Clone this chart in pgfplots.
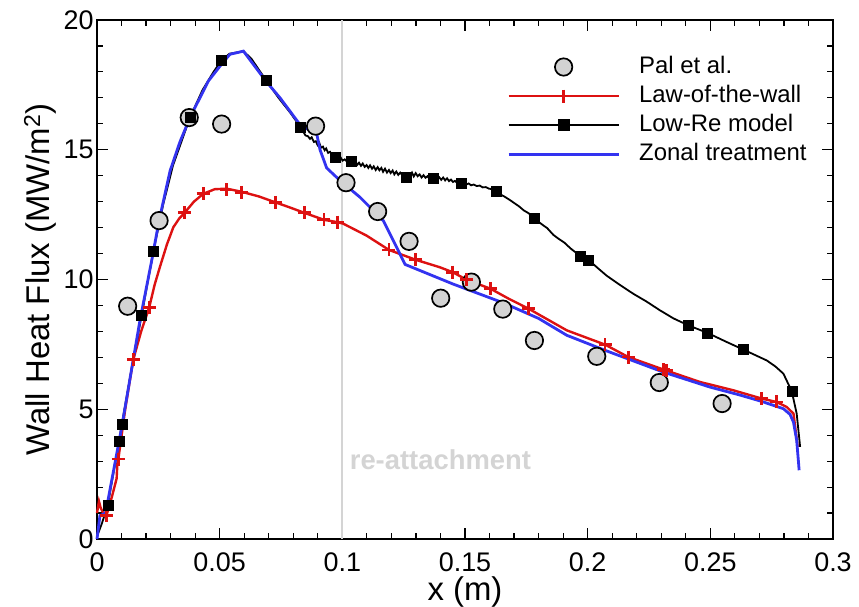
\documentclass[border=0pt]{standalone}
\usepackage{pgfplots}
\pgfplotsset{compat=1.18}
\usepackage{fontspec}
\setmainfont{Liberation Sans}
\definecolor{palgray}{HTML}{D3D3D3}
\definecolor{reatt}{HTML}{D4D4D4}
\definecolor{lawred}{HTML}{DD1111}
\definecolor{zonblue}{HTML}{3333F0}
\begin{document}
\begin{tikzpicture}
\begin{axis}[
  scale only axis, width=736bp, height=519bp,
  xmin=0, xmax=0.3, ymin=0, ymax=20,
  xtick={0,0.05,0.1,0.15,0.2,0.25,0.3},
  xticklabels={0,0.05,0.1,0.15,0.2,0.25,0.3},
  ytick={0,5,10,15,20},
  minor x tick num=4, minor y tick num=4,
  tick align=inside,
  major tick length=11bp, minor tick length=6bp,
  every tick/.style={black, line width=1.2bp},
  axis line style={line width=2.4bp},
  /pgf/number format/assume math mode=true,
  tick label style={font=\fontsize{27}{27}\selectfont},
  xticklabel style={inner ysep=0pt, yshift=-14bp},
  label style={font=\fontsize{33}{33}\selectfont},
  xlabel={x (m)},
  ylabel={Wall Heat Flux (MW/m\textsuperscript{2})},
  xlabel style={at={(axis description cs:0.5,-0.103)}, anchor=center, inner ysep=0pt},
  ylabel style={at={(axis description cs:-0.0775,0.5)}, anchor=center},
  legend image code/.code={%
    \draw[mark repeat=2,mark phase=2,#1] plot coordinates {(0bp,0bp) (55bp,0bp) (110bp,0bp)};},
  legend style={at={(rel axis cs:0.557,0.931)}, anchor=north west, draw=none, fill=none,
    font=\fontsize{24}{24}\selectfont, inner sep=0pt, row sep=7bp, column sep=19bp,
    nodes={inner sep=0pt, text height=17bp, text depth=5bp}},
  legend cell align=left,
  clip=false,
]
\addlegendimage{only marks, mark=*, mark size=8.7bp, mark options={fill=palgray, draw=black, line width=1.7bp}}
\addlegendentry{Pal et al.}
\addlegendimage{lawred, line width=2.5bp, mark=+, mark size=6.5bp, mark options={line width=2.8bp}}
\addlegendentry{Law-of-the-wall}
\addlegendimage{black, line width=2bp, mark=square*, mark size=5bp}
\addlegendentry{Low-Re model}
\addlegendimage{zonblue, line width=3bp}
\addlegendentry{Zonal treatment}

% re-attachment line
\addplot[forget plot, reatt, line width=2bp] coordinates {(0.1,0) (0.1,20)};
\node[anchor=west, text=reatt, font=\fontsize{27.5}{27.5}\selectfont\bfseries] at (axis cs:0.1,3.04) [xshift=4bp] {re-attachment};

% Pal et al.
\addplot[forget plot, only marks, mark=*, mark size=8.7bp, mark options={fill=palgray, draw=black, line width=1.7bp}] coordinates {
(0.0125,8.97) (0.0253,12.27) (0.0376,16.24) (0.0508,15.99) (0.0891,15.91)
(0.1015,13.73) (0.1144,12.62) (0.1272,11.47) (0.1401,9.28) (0.1526,9.90)
(0.1654,8.86) (0.1783,7.65) (0.2037,7.04) (0.2292,6.03) (0.2548,5.22)};

% Law-of-the-wall line
\addplot[forget plot, lawred, line width=2.4bp] coordinates {
(0,1.0) (0.0008,1.45) (0.0015,1.2) (0.0026,0.99) (0.004,0.95) (0.006,1.6) (0.008,2.33)
(0.0083,2.9) (0.0087,3.08) (0.0115,5.0) (0.0148,6.92) (0.018,8.0) (0.0213,8.93)
(0.0235,9.8) (0.0257,10.5) (0.0285,11.35) (0.0311,12.01) (0.0335,12.35) (0.0357,12.57)
(0.0395,13.0) (0.0433,13.30) (0.048,13.48)
(0.0529,13.5) (0.059,13.38) (0.066,13.2) (0.0728,12.97) (0.0785,12.78) (0.0845,12.57)
(0.0925,12.3) (0.098,12.21) (0.1004,12.15) (0.1099,11.69) (0.119,11.14) (0.1299,10.76)
(0.1398,10.47) (0.145,10.28) (0.1507,9.99) (0.1605,9.64) (0.168,9.25) (0.176,8.87)
(0.1915,8.04) (0.2071,7.49) (0.2166,7.01) (0.2309,6.53) (0.2458,6.05) (0.2594,5.73)
(0.271,5.41) (0.277,5.28) (0.2811,5.09) (0.2839,4.83) (0.2856,3.55)};
\addplot[forget plot, only marks, lawred, mark=+, mark size=6.5bp, mark options={line width=2.8bp}] coordinates {
(0.004,0.92) (0.0087,3.08) (0.0148,6.92) (0.0213,8.93) (0.0357,12.57) (0.0433,13.30)
(0.0529,13.45) (0.059,13.36) (0.0728,12.97) (0.0845,12.57) (0.0925,12.3) (0.098,12.21)
(0.119,11.14) (0.1299,10.76) (0.145,10.28) (0.1507,9.99) (0.1605,9.64) (0.176,8.87)
(0.2071,7.49) (0.2166,7.01) (0.2309,6.53) (0.2322,6.48) (0.271,5.41) (0.277,5.28)};

% Low-Re model
\addplot[forget plot, black, line width=1.8bp] coordinates {
(0,0.1) (0.002,0.6) (0.0044,1.31) (0.007,2.7) (0.009,3.77) (0.0101,4.42) (0.014,6.5)
(0.0182,8.62) (0.023,11.09) (0.027,12.9) (0.031,14.4) (0.0379,16.24) (0.043,17.3)
(0.0475,18.0) (0.0508,18.45) (0.054,18.7) (0.057,18.75) (0.0597,18.8) (0.063,18.5)
(0.0688,17.69) (0.074,17.0) (0.079,16.4) (0.083,15.86)
(0.0850,15.55) (0.0860,15.52) (0.0868,15.42) (0.0875,15.48) (0.0884,15.30) (0.0892,15.33)
(0.0899,15.18) (0.0906,15.27) (0.0913,15.08) (0.0921,15.12) (0.0928,14.98) (0.0934,15.05)
(0.0942,14.88) (0.0950,14.92) (0.0958,14.80) (0.0965,14.83) (0.0970,14.70) (0.0978,14.74)
(0.0986,14.62) (0.0993,14.70) (0.1001,14.58) (0.1010,14.63) (0.1018,14.55) (0.1027,14.60)
(0.1038,14.54) (0.1046,14.50) (0.1053,14.56) (0.1061,14.42) (0.1068,14.50) (0.1076,14.38)
(0.1083,14.47) (0.1091,14.34) (0.1099,14.41) (0.1106,14.30) (0.1113,14.40) (0.1121,14.27)
(0.1128,14.36) (0.1136,14.22) (0.1144,14.33) (0.1151,14.21) (0.1159,14.30) (0.1166,14.15)
(0.1174,14.27) (0.1182,14.12) (0.1190,14.22) (0.1197,14.10) (0.1205,14.20) (0.1212,14.05)
(0.1220,14.16) (0.1228,14.03) (0.1236,14.12) (0.1245,14.02) (0.1252,14.08) (0.1260,13.96)
(0.1268,14.06) (0.1276,13.99) (0.1284,14.12) (0.1291,13.97) (0.1299,14.10) (0.1307,13.98)
(0.1315,14.05) (0.1323,13.93) (0.1331,14.02) (0.1339,13.92) (0.1347,13.98) (0.1355,13.88)
(0.1363,13.96) (0.1371,13.90) (0.1379,13.95) (0.1387,13.86) (0.1395,13.94) (0.1403,13.84)
(0.1411,13.93) (0.1419,13.82) (0.1427,13.90) (0.1435,13.79) (0.1443,13.85) (0.1451,13.76)
(0.1459,13.80) (0.1467,13.73) (0.1475,13.78) (0.1484,13.71) (0.1495,13.72) (0.1505,13.66)
(0.1515,13.70) (0.1525,13.63) (0.1535,13.66) (0.1548,13.60) (0.1560,13.62) (0.1572,13.55)
(0.1585,13.56) (0.1598,13.50) (0.1612,13.48) (0.1627,13.42) (0.164,13.30) (0.166,13.2)
(0.1685,13.05) (0.1697,12.97) (0.172,12.82) (0.174,12.66) (0.176,12.55) (0.1782,12.36)
(0.180,12.22) (0.182,12.08) (0.1835,11.98) (0.186,11.72) (0.188,11.58) (0.1905,11.42)
(0.193,11.2) (0.195,11.05) (0.1969,10.88) (0.2003,10.76)
(0.204,10.45) (0.2077,10.15) (0.213,9.8) (0.2186,9.45) (0.224,9.15) (0.2295,8.81)
(0.235,8.5) (0.2411,8.23) (0.2489,7.94) (0.2567,7.59) (0.2632,7.31) (0.268,7.1)
(0.273,6.88) (0.2765,6.65) (0.2798,6.37) (0.2832,5.69) (0.2852,4.83) (0.2866,3.55)};
\addplot[forget plot, only marks, black, mark=square*, mark size=5bp] coordinates {
(0.0044,1.31) (0.009,3.77) (0.0101,4.42) (0.0182,8.62) (0.023,11.09) (0.0379,16.24)
(0.0508,18.45) (0.0688,17.69) (0.083,15.86) (0.097,14.70) (0.1038,14.54) (0.126,13.96)
(0.1371,13.90) (0.1484,13.71) (0.1627,13.42) (0.1782,12.36) (0.1969,10.88) (0.2003,10.76)
(0.2411,8.23) (0.2489,7.94) (0.2632,7.31) (0.2832,5.69)};

% Zonal treatment
\addplot[forget plot, zonblue, line width=2.8bp] coordinates {
(0,0) (0.0012,0.9) (0.0035,1.0) (0.0101,4.32) (0.0175,8.42) (0.0223,10.73) (0.0253,12.27)
(0.0298,14.19) (0.0338,15.3) (0.0379,16.24) (0.0454,17.65) (0.0508,18.3) (0.0542,18.68)
(0.0575,18.75) (0.0597,18.8) (0.0688,17.65) (0.0746,17.0) (0.0828,15.96) (0.0896,15.6)
(0.0909,15.0) (0.0936,14.3) (0.0991,13.81) (0.1072,13.17) (0.1167,12.27) (0.1256,10.58)
(0.145,9.83) (0.1656,9.1) (0.18,8.5) (0.1915,7.85) (0.2071,7.27) (0.2309,6.43) (0.25,5.85)
(0.262,5.55) (0.271,5.3) (0.2798,5.02) (0.2825,4.8) (0.2839,4.5) (0.2852,3.8) (0.2862,2.65)};

\coordinate (sw) at (rel axis cs:0,0);
\coordinate (ne) at (rel axis cs:1,1);
\end{axis}
\pgfresetboundingbox
\path[use as bounding box] ([shift={(-97bp,-68bp)}]sw) rectangle ([shift={(26bp,20bp)}]ne);
\end{tikzpicture}
\end{document}
